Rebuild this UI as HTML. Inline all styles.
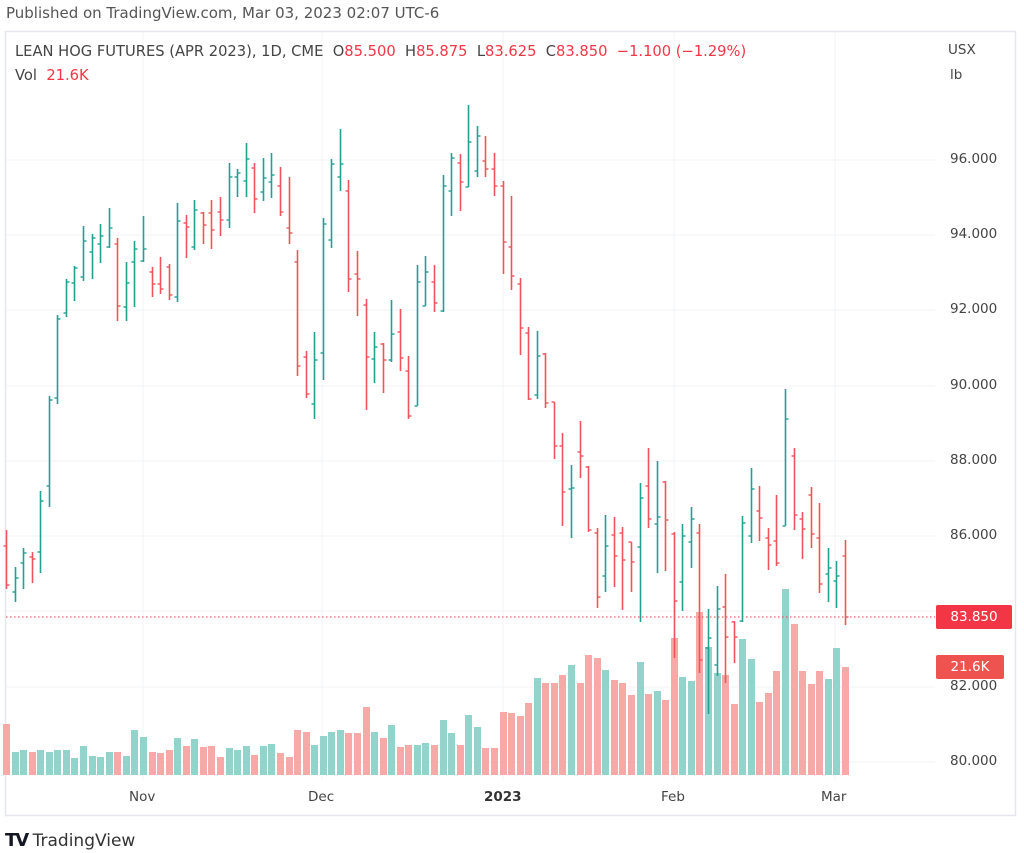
<!DOCTYPE html>
<html><head><meta charset="utf-8"><style>
html,body{margin:0;padding:0;background:#fff;width:1024px;height:853px;overflow:hidden;font-family:"DejaVu Sans",sans-serif}
.t{position:absolute;white-space:nowrap}
</style></head><body>
<div class="t" style="left:6px;top:4px;font-size:15px;color:#555">Published on TradingView.com, Mar 03, 2023 02:07 UTC-6</div>
<svg id="c" width="1024" height="853" style="position:absolute;left:0;top:0">
<rect x="5.5" y="31.5" width="1010" height="784" fill="none" stroke="#e6e7ee" stroke-width="1.5"/>
</svg>
<div class="t" style="left:15px;top:43px;font-size:14.7px;color:#444">LEAN HOG FUTURES (APR 2023), 1D, CME&nbsp; O<span style="color:#f23645">85.500</span>&nbsp; H<span style="color:#f23645">85.875</span>&nbsp; L<span style="color:#f23645">83.625</span>&nbsp; C<span style="color:#f23645">83.850</span>&nbsp; <span style="color:#f23645">−1.100 (−1.29%)</span></div>
<div class="t" style="left:15px;top:67px;font-size:14.7px;color:#444">Vol&nbsp; <span style="color:#f23645">21.6K</span></div>
<div class="t" style="left:948px;top:42px;font-size:13.5px;color:#444">USX</div>
<div class="t" style="left:950px;top:67px;font-size:13.5px;color:#444">lb</div>
<div class="t" style="left:950px;top:151px;font-size:13.5px;color:#444">96.000</div>
<div class="t" style="left:950px;top:226px;font-size:13.5px;color:#444">94.000</div>
<div class="t" style="left:950px;top:301px;font-size:13.5px;color:#444">92.000</div>
<div class="t" style="left:950px;top:377px;font-size:13.5px;color:#444">90.000</div>
<div class="t" style="left:950px;top:452px;font-size:13.5px;color:#444">88.000</div>
<div class="t" style="left:950px;top:527px;font-size:13.5px;color:#444">86.000</div>
<div class="t" style="left:950px;top:678px;font-size:13.5px;color:#444">82.000</div>
<div class="t" style="left:950px;top:753px;font-size:13.5px;color:#444">80.000</div>
<div class="t" style="left:936px;top:605px;width:76px;height:24px;background:#f23645;border-radius:2px;color:#fff;font-size:13.5px;line-height:24px;text-align:center">83.850</div>
<div class="t" style="left:936px;top:655px;width:68px;height:24px;background:#ef5350;border-radius:2px;color:#fff;font-size:13.5px;line-height:24px;text-align:center">21.6K</div>
<div class="t" style="left:129px;top:789px;font-size:13.5px;color:#444">Nov</div>
<div class="t" style="left:308px;top:789px;font-size:13.5px;color:#444">Dec</div>
<div class="t" style="left:484px;top:789px;font-size:13.5px;color:#333;font-weight:bold">2023</div>
<div class="t" style="left:661px;top:789px;font-size:13.5px;color:#444">Feb</div>
<div class="t" style="left:821px;top:789px;font-size:13.5px;color:#444">Mar</div>
<div class="t" style="left:5px;top:830px;font-size:17px;color:#333"><b style="font-size:18px;letter-spacing:-2px;color:#131722">TV</b> TradingView</div>
<script>
var s=document.getElementById('c'),ns='http://www.w3.org/2000/svg';
function el(n,a){var e=document.createElementNS(ns,n);for(var k in a)e.setAttribute(k,a[k]);s.appendChild(e);return e;}
var py=[160,235,310,386,461,536,611,687,762];
py.forEach(function(y){el('line',{x1:6,x2:935,y1:y,y2:y,stroke:'#f2f3f5','stroke-width':1});});
[143,322,503,674,835].forEach(function(x){el('line',{x1:x,x2:x,y1:32,y2:780,stroke:'#f2f3f5','stroke-width':1});});
var D=[
['r',530,589,546,585,724],['g',567,602,592,578,752],['g',548,589,563,553,750],['r',552,583,557,559,752],['g',491,573,552,501,750],
['g',396,507,486,400,752],['g',315,404,398,319,750],['g',279,317,313,282,750],['g',266,301,283,268,758],['g',226,281,277,241,746],
['g',234,279,252,238,756],['g',224,263,244,236,757],['g',208,248,247,228,752],['r',238,321,244,306,752],['g',262,321,307,283,756],
['g',241,307,262,249,730],['g',216,262,261,249,737],['r',267,297,272,284,752],['r',257,294,284,289,753],['r',264,300,267,295,750],
['g',203,302,297,221,738],['r',215,258,223,227,746],['g',200,250,247,210,739],['r',212,244,213,225,747],['r',200,249,213,230,746],
['r',197,236,212,220,757],['g',163,228,220,177,748],['g',169,197,177,173,750],['g',143,197,181,159,746],['r',163,213,168,199,755],
['g',158,201,192,178,746],['g',153,198,182,175,744],['r',167,216,186,212,753],['r',177,244,228,233,757],['r',250,376,262,366,730],
['r',351,398,357,394,732],['g',332,419,404,360,745],['g',218,380,353,224,736],['g',159,248,240,164,732],['g',129,191,177,164,730],
['r',180,292,191,279,733],['r',251,316,274,279,733],['r',299,410,305,357,707],['g',332,383,359,347,732],['r',343,393,344,360,738],
['g',300,362,360,334,725],['r',309,371,332,358,747],['r',356,419,371,416,745],['g',265,406,406,282,745],['g',256,306,306,272,743],
['r',265,312,282,303,745],['g',175,312,311,186,720],['g',153,216,191,158,733],['r',154,211,163,182,745],['g',105,187,187,142,715],
['g',126,177,171,136,727],['r',136,177,161,169,748],['r',153,196,169,186,748],['r',181,274,186,242,712],['r',196,290,247,276,713],
['r',278,355,284,328,716],['r',327,400,333,399,703],['g',331,399,395,356,678],['r',353,408,354,403,683],['r',402,459,402,446,683],
['r',433,526,446,492,675],['g',465,538,489,488,665],['r',421,478,452,456,683],['r',466,532,467,530,655],['r',528,608,533,597,658],
['g',515,592,576,546,670],['r',517,587,535,556,680],['r',527,610,533,560,683],['r',542,592,542,562,695],['g',483,622,547,498,662],
['r',448,528,486,519,694],['g',461,573,524,517,691],['r',481,571,482,520,700],['r',532,658,534,601,638],['g',524,611,582,536,677],
['g',507,568,542,519,681],['r',524,673,533,660,612],['g',609,714,648,638,647],['g',586,676,665,609,673],['r',574,683,607,637,675],
['r',621,663,622,637,704],['g',516,622,621,523,639],['g',468,543,536,489,659],['r',486,541,511,518,702],['r',528,570,538,545,693],
['r',495,566,541,563,671],['g',389,526,526,419,589],['r',448,530,456,515,624],['r',512,559,519,529,671],['r',487,548,495,534,684],
['r',503,593,538,584,671],['g',548,602,574,568,679],['g',561,608,581,576,648],['r',540,625,556,617,667]];
var gv='#92d3cc',rv='#f7a9a7';
D.forEach(function(d,i){var x=Math.round(6+8.561*i)+0.5;
 el('rect',{x:x-3.5,y:d[5],width:7,height:775-d[5],fill:d[0]=='g'?gv:rv});});
el('line',{x1:6,x2:935,y1:617,y2:617,stroke:'#f23645','stroke-width':1,'stroke-dasharray':'1.5,2.5'});
D.forEach(function(d,i){var x=Math.round(6+8.561*i)+0.5;var c=d[0]=='g'?'#22a192':'#f0545a';
 el('line',{x1:x,x2:x,y1:d[1],y2:d[2],stroke:c,'stroke-width':1.6});
 el('line',{x1:x-3,x2:x,y1:d[3],y2:d[3],stroke:c,'stroke-width':1.4});
 el('line',{x1:x,x2:x+3,y1:d[4],y2:d[4],stroke:c,'stroke-width':1.4});});
</script>
</body></html>
